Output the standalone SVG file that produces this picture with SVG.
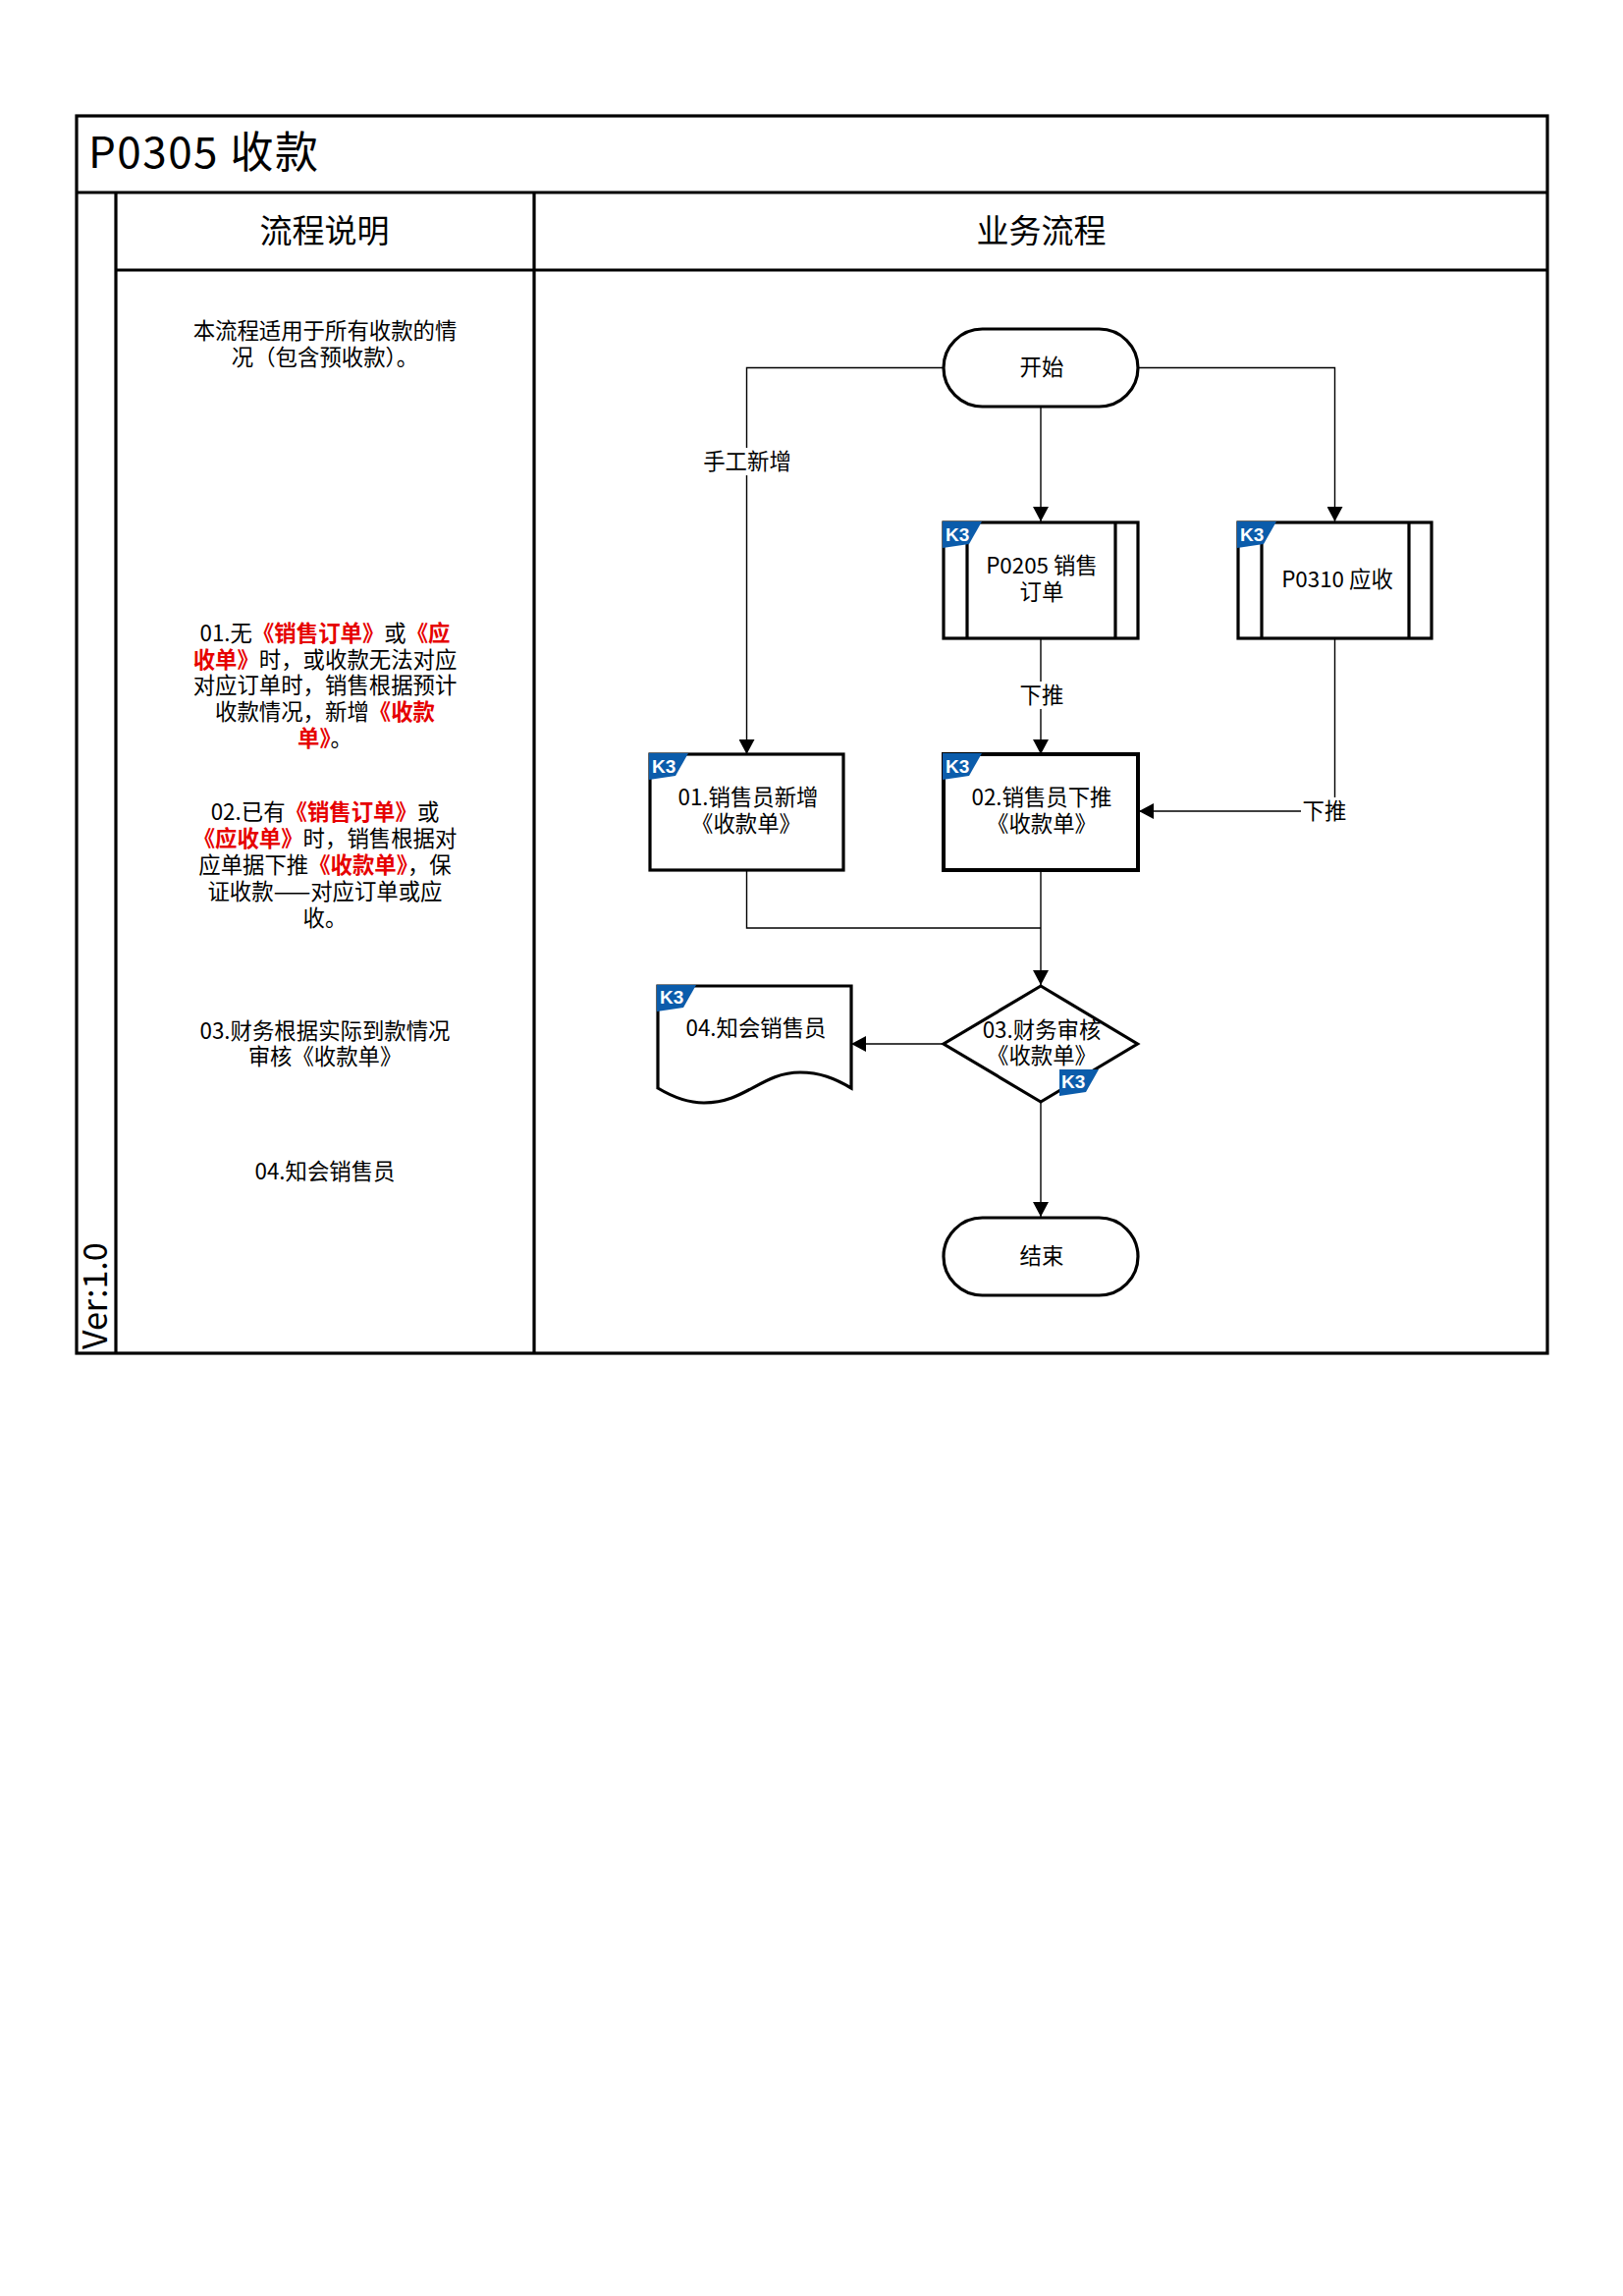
<svg xmlns="http://www.w3.org/2000/svg" width="1653" height="2338" viewBox="0 0 1653 2338">
<style>
text{font-family:"Noto Sans CJK SC","Noto Sans",sans-serif;fill:#000}
.t{font-size:22.4px;text-anchor:middle}
.r{fill:#e60000;font-weight:700}
.h{font-size:33px;text-anchor:middle}
.f{fill:none;stroke:#000;stroke-width:3.2}
.n{fill:#fff;stroke:#000;stroke-width:3.2}
.c{fill:none;stroke:#000;stroke-width:1.4;marker-end:url(#a)}
.l{fill:none;stroke:#000;stroke-width:1.4}
.k{fill:#0b5cab}
.kt{fill:#fff;font-size:19px;font-weight:700;font-family:"Liberation Sans",sans-serif}
</style>
<defs>
<marker id="a" markerUnits="userSpaceOnUse" markerWidth="16" markerHeight="16" refX="15" refY="8" orient="auto"><path d="M0 0L15 8L0 16z" fill="#000"/></marker>
</defs>
<rect width="1653" height="2338" fill="#fff"/>
<g id="frame">
<rect class="f" x="78" y="118" width="1498" height="1260"/>
<path class="f" d="M78 196H1576M118 275H1576M118 196V1378M544 196V1378"/>
<text x="90" y="171" font-size="44" letter-spacing="1.5">P0305 收款</text>
<text class="h" x="330.500" y="247">流程说明</text>
<text class="h" x="1060.500" y="247">业务流程</text>
<text x="109" y="1374" font-size="34" transform="rotate(-90 109 1374)">Ver:1.0</text>
</g>
<g id="descriptions">
<text class="t"><tspan x="331" y="345">本流程适用于所有收款的情</tspan><tspan x="331" y="372">况（包含预收款）。</tspan></text>
<text class="t"><tspan x="331" y="653">01.无<tspan class="r">《销售订单》</tspan>或<tspan class="r">《应</tspan></tspan><tspan x="331" y="680"><tspan class="r">收单》</tspan>时，或收款无法对应</tspan><tspan x="331" y="706">对应订单时，销售根据预计</tspan><tspan x="331" y="733">收款情况，新增<tspan class="r">《收款</tspan></tspan><tspan x="331" y="760"><tspan class="r">单》</tspan>。</tspan></text>
<text class="t"><tspan x="331" y="835">02.已有<tspan class="r">《销售订单》</tspan>或</tspan><tspan x="331" y="862"><tspan class="r">《应收单》</tspan>时，销售根据对</tspan><tspan x="331" y="889">应单据下推<tspan class="r">《收款单》</tspan>，保</tspan><tspan x="331" y="916">证收款——对应订单或应</tspan><tspan x="331" y="943">收。</tspan></text>
<text class="t"><tspan x="331" y="1058">03.财务根据实际到款情况</tspan><tspan x="331" y="1084">审核《收款单》</tspan></text>
<text class="t" x="331" y="1201">04.知会销售员</text>
</g>
<g id="connectors">
<path class="c" d="M1060 413.500V531"/>
<path class="c" d="M961 374.500H760.500V768"/>
<path class="c" d="M1159 374.500H1359.500V531"/>
<path class="c" d="M1060 650V768"/>
<path class="c" d="M1359.500 650V826H1160"/>
<path class="l" d="M760.500 886V945H1060"/>
<path class="c" d="M1060 886V1003"/>
<path class="c" d="M961 1063H867"/>
<path class="c" d="M1060 1122V1239"/>
</g>
<g id="labels">
<rect x="716" y="456" width="90" height="28" fill="#fff"/>
<text class="t" x="761" y="478">手工新增</text>
<rect x="1037" y="694" width="48" height="28" fill="#fff"/>
<text class="t" x="1061" y="716">下推</text>
<rect x="1325" y="812" width="50" height="28" fill="#fff"/>
<text class="t" x="1349" y="834">下推</text>
</g>
<g id="start"><rect class="n" x="961" y="335" width="198" height="79" rx="39.500"/><text class="t" x="1061" y="382">开始</text></g>
<g id="p0205"><rect class="n" x="961" y="532" width="198" height="118"/><path class="f" d="M985 532V650M1136 532V650"/><path class="k" transform="translate(960 531)" d="M0 0H40L27 23L0 27z"/><text class="kt" x="963" y="551">K3</text><text class="t"><tspan x="1061" y="584">P0205 销售</tspan><tspan x="1061" y="611">订单</tspan></text></g>
<g id="p0310"><rect class="n" x="1261" y="532" width="197" height="118"/><path class="f" d="M1285 532V650M1435 532V650"/><path class="k" transform="translate(1260 531)" d="M0 0H40L27 23L0 27z"/><text class="kt" x="1263" y="551">K3</text><text class="t" x="1362" y="598">P0310 应收</text></g>
<g id="step01"><rect class="n" x="662" y="768" width="197" height="118"/><path class="k" transform="translate(661 767)" d="M0 0H40L27 23L0 27z"/><text class="kt" x="664" y="787">K3</text><text class="t"><tspan x="762" y="820">01.销售员新增</tspan><tspan x="760" y="847">《收款单》</tspan></text></g>
<g id="step02"><rect class="n" x="961" y="768" width="198" height="118" style="stroke-width:4"/><path class="k" transform="translate(960 767)" d="M0 0H40L27 23L0 27z"/><text class="kt" x="963" y="787">K3</text><text class="t"><tspan x="1061" y="820">02.销售员下推</tspan><tspan x="1061" y="847">《收款单》</tspan></text></g>
<g id="step03"><path class="n" d="M1060 1004L1158.500 1063L1060 1122L961 1063z"/><text class="t"><tspan x="1061" y="1057">03.财务审核</tspan><tspan x="1061" y="1083">《收款单》</tspan></text><path class="k" transform="translate(1079 1089)" d="M0 0H40L27 23L0 27z"/><text class="kt" x="1081" y="1108">K3</text></g>
<g id="step04"><path class="n" d="M670 1004H867V1108C850 1098 835 1092 815 1092C775 1092 760 1123 717 1123C700 1123 685 1117 670 1108z"/><path class="k" transform="translate(669 1003)" d="M0 0H40L27 23L0 27z"/><text class="kt" x="672" y="1022">K3</text><text class="t" x="770" y="1055">04.知会销售员</text></g>
<g id="end"><rect class="n" x="961" y="1240" width="198" height="79" rx="39.500"/><text class="t" x="1061" y="1287">结束</text></g>
</svg>
